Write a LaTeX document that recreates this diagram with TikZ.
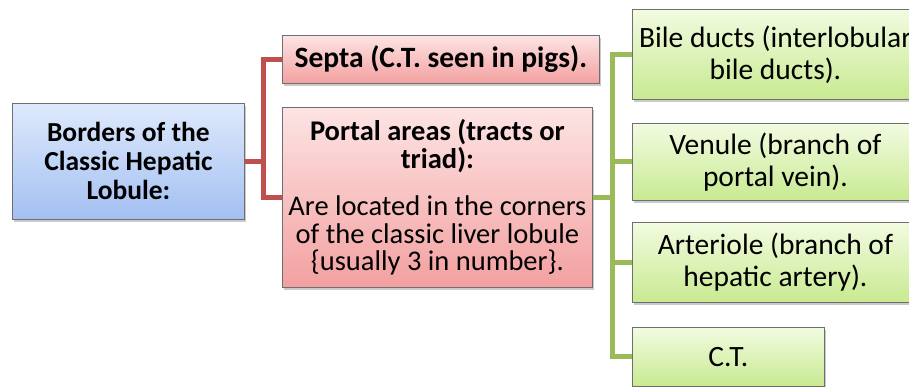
\documentclass[tikz,border=0pt]{standalone}
\usepackage{fontspec}
\setmainfont{Carlito}
\usetikzlibrary{shadows}
\definecolor{frameline}{HTML}{6F6F6F}
\definecolor{redlink}{HTML}{C0504D}
\definecolor{greenlink}{HTML}{9BBB59}
\tikzset{
  box/.style={draw=frameline, line width=0.8pt, anchor=north west, inner sep=2pt,
    align=center, text=black,
    drop shadow={shadow xshift=2pt, shadow yshift=-3pt, opacity=0.35, fill=black!60}},
  bluebox/.style={box, top color={rgb,255:red,222;green,233;blue,252}, bottom color={rgb,255:red,163;green,192;blue,242},
    font=\fontsize{27.5}{29}\selectfont\bfseries},
  redbox/.style={box, top color={rgb,255:red,253;green,228;blue,228}, bottom color={rgb,255:red,243;green,160;blue,160}},
  greenbox/.style={box, top color={rgb,255:red,242;green,251;blue,225}, bottom color={rgb,255:red,200;green,234;blue,145},
    font=\fontsize{29.5}{32}\selectfont},
  redwire/.style={draw=redlink, line width=5pt},
  greenwire/.style={draw=greenlink, line width=5pt},
}
\begin{document}
\begin{tikzpicture}[x=1pt, y=-1pt]
\useasboundingbox (0,0) rectangle (909,387);
\clip (0,0) rectangle (909,387);

% root
\node[bluebox, minimum width=232pt, minimum height=116pt]
  (root) at (12,103) {Borders of the\\Classic Hepatic\\Lobule:};

% second level
\node[redbox, minimum width=317pt, minimum height=48pt, font=\fontsize{29.5}{32}\selectfont\bfseries]
  (septa) at (282,35) {Septa (C.T. seen in pigs).};
\node[redbox, minimum width=310pt, minimum height=180pt, font=\fontsize{28.5}{27.5}\selectfont]
  (portal) at (282,107) {\textbf{Portal areas (tracts or}\\\textbf{triad):}\\[20pt]
  Are located in the corners\\of the classic liver lobule\\\{usually 3 in number\}.};

% third level
\node[greenbox, minimum width=286pt, minimum height=90pt]
  (bile) at (632,9) {Bile ducts (interlobular\\bile ducts).};
\node[greenbox, minimum width=286pt, minimum height=77pt]
  (venule) at (632,123) {Venule (branch of\\portal vein).};
\node[greenbox, minimum width=286pt, minimum height=80pt]
  (arteriole) at (632,222) {Arteriole (branch of\\hepatic artery).};
\node[greenbox, minimum width=192pt, minimum height=59pt]
  (ct) at (632,327) {C.T.};

% connectors
\draw[redwire] (root.east) -- ++(19,0) |- (septa.west);
\draw[redwire] (root.east) -- ++(19,0) |- (portal.west);
\foreach \t in {bile,venule,arteriole,ct}
  \draw[greenwire] (portal.east) -- ++(20,0) |- (\t.west);
\end{tikzpicture}
\end{document}
